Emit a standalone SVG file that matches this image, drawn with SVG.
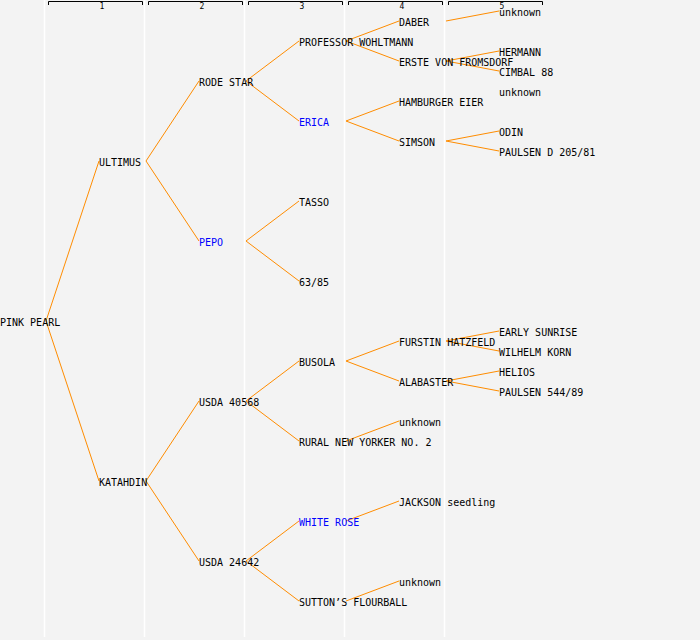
<svg xmlns="http://www.w3.org/2000/svg" width="700" height="640" viewBox="0 0 700 640">
<style>
.col{stroke:#ffffff;stroke-width:1.5}
.br{fill:none;stroke:#000;stroke-width:1}
.hd{font-family:"DejaVu Sans Mono","Liberation Mono",monospace;font-size:8px;fill:#000;text-anchor:middle}
text.n{font-family:"DejaVu Sans Mono","Liberation Mono",monospace;font-size:10px;fill:#000}
text.b{fill:#0000ff}
#connectors line{stroke:#ff8c00;stroke-width:1}
</style>
<rect width="700" height="640" fill="#f3f3f3"/>
<g id="grid">
<line class="col" x1="44.5" y1="0" x2="44.5" y2="637"/>
<line class="col" x1="144.5" y1="0" x2="144.5" y2="637"/>
<line class="col" x1="244.5" y1="0" x2="244.5" y2="637"/>
<line class="col" x1="344.5" y1="0" x2="344.5" y2="637"/>
<line class="col" x1="444.5" y1="0" x2="444.5" y2="637"/>
<path class="br" d="M48.5,5V1.5H142.5V5M148.5,5V1.5H242.5V5M248.5,5V1.5H342.5V5M348.5,5V1.5H442.5V5M448.5,5V1.5H542.5V5"/>
<text class="hd" x="102" y="9">1</text>
<text class="hd" x="202" y="9">2</text>
<text class="hd" x="302" y="9">3</text>
<text class="hd" x="402" y="9">4</text>
<text class="hd" x="502" y="9">5</text>
</g>
<g id="connectors">
<line x1="46" y1="321" x2="99" y2="161"/>
<line x1="46" y1="321" x2="99" y2="481"/>
<line x1="146" y1="161" x2="199" y2="81"/>
<line x1="146" y1="161" x2="199" y2="241"/>
<line x1="146" y1="481" x2="199" y2="401"/>
<line x1="146" y1="481" x2="199" y2="561"/>
<line x1="246" y1="81" x2="299" y2="41"/>
<line x1="246" y1="81" x2="299" y2="121"/>
<line x1="246" y1="241" x2="299" y2="201"/>
<line x1="246" y1="241" x2="299" y2="281"/>
<line x1="246" y1="401" x2="299" y2="361"/>
<line x1="246" y1="401" x2="299" y2="441"/>
<line x1="246" y1="561" x2="299" y2="521"/>
<line x1="246" y1="561" x2="299" y2="601"/>
<line x1="346" y1="41" x2="399" y2="21"/>
<line x1="346" y1="41" x2="399" y2="61"/>
<line x1="346" y1="121" x2="399" y2="101"/>
<line x1="346" y1="121" x2="399" y2="141"/>
<line x1="346" y1="361" x2="399" y2="341"/>
<line x1="346" y1="361" x2="399" y2="381"/>
<line x1="346" y1="441" x2="399" y2="421"/>
<line x1="346" y1="521" x2="399" y2="501"/>
<line x1="346" y1="601" x2="399" y2="581"/>
<line x1="446" y1="21" x2="499" y2="11"/>
<line x1="446" y1="61" x2="499" y2="51"/>
<line x1="446" y1="61" x2="499" y2="71"/>
<line x1="446" y1="141" x2="499" y2="131"/>
<line x1="446" y1="141" x2="499" y2="151"/>
<line x1="446" y1="341" x2="499" y2="331"/>
<line x1="446" y1="341" x2="499" y2="351"/>
<line x1="446" y1="381" x2="499" y2="371"/>
<line x1="446" y1="381" x2="499" y2="391"/>
</g>
<g id="n-pink-pearl"><text class="n" x="0" y="326">PINK PEARL</text></g>
<g id="n-ultimus"><text class="n" x="99" y="166">ULTIMUS</text></g>
<g id="n-katahdin"><text class="n" x="99" y="486">KATAHDIN</text></g>
<g id="n-rode-star"><text class="n" x="199" y="86">RODE STAR</text></g>
<g id="n-pepo"><text class="n b" x="199" y="246">PEPO</text></g>
<g id="n-usda-40568"><text class="n" x="199" y="406">USDA 40568</text></g>
<g id="n-usda-24642"><text class="n" x="199" y="566">USDA 24642</text></g>
<g id="n-professor"><text class="n" x="299" y="46">PROFESSOR WOHLTMANN</text></g>
<g id="n-erica"><text class="n b" x="299" y="126">ERICA</text></g>
<g id="n-tasso"><text class="n" x="299" y="206">TASSO</text></g>
<g id="n-6385"><text class="n" x="299" y="286">63/85</text></g>
<g id="n-busola"><text class="n" x="299" y="366">BUSOLA</text></g>
<g id="n-rural"><text class="n" x="299" y="446">RURAL NEW YORKER NO. 2</text></g>
<g id="n-white-rose"><text class="n b" x="299" y="526">WHITE ROSE</text></g>
<g id="n-sutton"><text class="n" x="299" y="606">SUTTON’S FLOURBALL</text></g>
<g id="n-daber"><text class="n" x="399" y="26">DABER</text></g>
<g id="n-erste"><text class="n" x="399" y="66">ERSTE VON FROMSDORF</text></g>
<g id="n-hamburger"><text class="n" x="399" y="106">HAMBURGER EIER</text></g>
<g id="n-simson"><text class="n" x="399" y="146">SIMSON</text></g>
<g id="n-furstin"><text class="n" x="399" y="346">FURSTIN HATZFELD</text></g>
<g id="n-alabaster"><text class="n" x="399" y="386">ALABASTER</text></g>
<g id="n-unknown-rural"><text class="n" x="399" y="426">unknown</text></g>
<g id="n-jackson"><text class="n" x="399" y="506">JACKSON seedling</text></g>
<g id="n-unknown-sutton"><text class="n" x="399" y="586">unknown</text></g>
<g id="n-unknown-daber"><text class="n" x="499" y="16">unknown</text></g>
<g id="n-hermann"><text class="n" x="499" y="56">HERMANN</text></g>
<g id="n-cimbal"><text class="n" x="499" y="76">CIMBAL 88</text></g>
<g id="n-unknown-hamburger"><text class="n" x="499" y="96">unknown</text></g>
<g id="n-odin"><text class="n" x="499" y="136">ODIN</text></g>
<g id="n-paulsen-d"><text class="n" x="499" y="156">PAULSEN D 205/81</text></g>
<g id="n-early-sunrise"><text class="n" x="499" y="336">EARLY SUNRISE</text></g>
<g id="n-wilhelm"><text class="n" x="499" y="356">WILHELM KORN</text></g>
<g id="n-helios"><text class="n" x="499" y="376">HELIOS</text></g>
<g id="n-paulsen-544"><text class="n" x="499" y="396">PAULSEN 544/89</text></g>
</svg>
